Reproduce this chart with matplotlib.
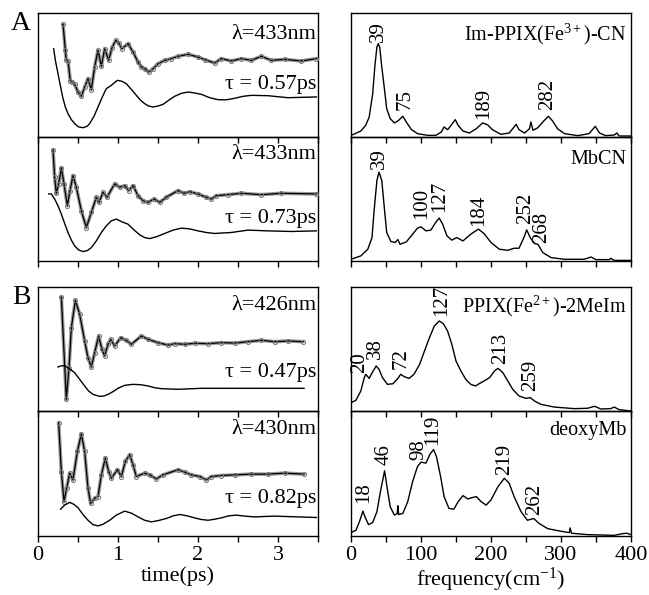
import numpy as np
import matplotlib
matplotlib.use("Agg")
import matplotlib.pyplot as plt

# ------------------------------------------------------------
# Data (y in arbitrary units, 0..1 per panel)
# ------------------------------------------------------------

# A1 : Im-PPIX(Fe3+)-CN, 433 nm
t_a1 = [0.313, 0.342, 0.354, 0.375, 0.404, 0.429, 0.458, 0.500, 0.542, 0.583,
        0.625, 0.667, 0.708, 0.750, 0.792, 0.833, 0.883, 0.925, 0.971, 1.008,
        1.050, 1.125, 1.188, 1.250, 1.292, 1.333, 1.383, 1.438, 1.500, 1.583,
        1.667, 1.750, 1.875, 2.000, 2.083, 2.208, 2.292, 2.417, 2.542, 2.667,
        2.792, 2.917, 3.083, 3.292, 3.479]
y_a1 = [0.909, 0.699, 0.618, 0.613, 0.452, 0.444, 0.425, 0.363, 0.328, 0.403,
        0.470, 0.382, 0.565, 0.699, 0.570, 0.712, 0.618, 0.720, 0.780, 0.758,
        0.712, 0.753, 0.685, 0.605, 0.565, 0.551, 0.524, 0.551, 0.591, 0.618,
        0.632, 0.651, 0.667, 0.645, 0.624, 0.597, 0.632, 0.613, 0.632, 0.618,
        0.651, 0.618, 0.626, 0.613, 0.632]
tf_a1 = [0.196, 0.217, 0.25, 0.283, 0.313, 0.342, 0.375, 0.417, 0.458, 0.508,
         0.5625, 0.6125, 0.646, 0.7, 0.75, 0.804, 0.854, 0.917, 0.992, 1.05,
         1.104, 1.167, 1.229, 1.283, 1.333, 1.383, 1.4375, 1.5, 1.5625, 1.633,
         1.708, 1.792, 1.875, 1.958, 2.042, 2.146, 2.25, 2.354, 2.458, 2.5625,
         2.667, 2.875, 3.125, 3.479]
yf_a1 = [0.712, 0.618, 0.511, 0.403, 0.309, 0.242, 0.188, 0.140, 0.108, 0.081,
         0.075, 0.086, 0.108, 0.167, 0.242, 0.323, 0.390, 0.417, 0.457, 0.449,
         0.430, 0.384, 0.336, 0.296, 0.269, 0.250, 0.242, 0.250, 0.263, 0.296,
         0.328, 0.352, 0.363, 0.355, 0.344, 0.317, 0.301, 0.300, 0.312, 0.328,
         0.336, 0.333, 0.317, 0.323]

# A2 : MbCN, 433 nm
t_a2 = [0.1875, 0.208, 0.229, 0.258, 0.292, 0.325, 0.367, 0.400, 0.4375, 0.479,
        0.542, 0.604, 0.667, 0.729, 0.763, 0.8125, 0.8625, 0.958, 1.021, 1.083,
        1.133, 1.188, 1.25, 1.3125, 1.375, 1.45, 1.521, 1.604, 1.75, 1.825,
        1.896, 2.0, 2.104, 2.167, 2.229, 2.375, 2.542, 2.792, 3.042, 3.479]
y_a2 = [0.897, 0.676, 0.546, 0.622, 0.751, 0.622, 0.446, 0.568, 0.689, 0.595,
        0.405, 0.270, 0.392, 0.514, 0.473, 0.554, 0.514, 0.622, 0.595, 0.608,
        0.568, 0.608, 0.527, 0.486, 0.473, 0.500, 0.473, 0.514, 0.568, 0.546,
        0.559, 0.541, 0.514, 0.500, 0.527, 0.535, 0.546, 0.535, 0.546, 0.541]
tf_a2 = [0.133, 0.167, 0.208, 0.25, 0.292, 0.333, 0.375, 0.417, 0.458, 0.508,
         0.5625, 0.617, 0.667, 0.729, 0.792, 0.854, 0.917, 0.979, 1.05, 1.125,
         1.2, 1.271, 1.333, 1.396, 1.479, 1.583, 1.688, 1.792, 1.896, 2.0,
         2.104, 2.208, 2.417, 2.625, 2.875, 3.167, 3.479]
yf_a2 = [0.541, 0.541, 0.500, 0.446, 0.378, 0.303, 0.230, 0.168, 0.122, 0.089,
         0.076, 0.084, 0.108, 0.162, 0.230, 0.284, 0.324, 0.338, 0.316, 0.297,
         0.251, 0.211, 0.189, 0.181, 0.195, 0.222, 0.249, 0.265, 0.259, 0.243,
         0.230, 0.222, 0.230, 0.249, 0.243, 0.238, 0.243]

# B1 : PPIX(Fe2+)-2MeIm, 426 nm
t_b1 = [0.292, 0.354, 0.3875, 0.417, 0.467, 0.521, 0.583, 0.625, 0.667, 0.708,
        0.758, 0.8, 0.833, 0.875, 0.908, 0.958, 1.033, 1.104, 1.167, 1.292,
        1.375, 1.5, 1.625, 1.708, 1.833, 1.958, 2.125, 2.292, 2.458, 2.625,
        2.792, 2.958, 3.125, 3.3125]
y_b1 = [0.919, 0.094, 0.349, 0.672, 0.892, 0.780, 0.565, 0.430, 0.355, 0.470,
        0.605, 0.497, 0.444, 0.538, 0.578, 0.524, 0.591, 0.570, 0.538, 0.605,
        0.578, 0.551, 0.532, 0.543, 0.538, 0.546, 0.543, 0.551, 0.548, 0.559,
        0.570, 0.559, 0.565, 0.559]
tf_b1 = [0.25, 0.283, 0.325, 0.375, 0.458, 0.521, 0.583, 0.633, 0.6875, 0.771,
         0.825, 0.875, 0.9375, 1.0, 1.083, 1.1875, 1.283, 1.375, 1.458, 1.542,
         1.75, 2.042, 2.458, 3.325]
yf_b1 = [0.355, 0.363, 0.366, 0.349, 0.309, 0.255, 0.202, 0.161, 0.134, 0.118,
         0.121, 0.134, 0.156, 0.183, 0.207, 0.215, 0.212, 0.202, 0.188, 0.180,
         0.175, 0.183, 0.183, 0.183]

# B2 : deoxyMb, 430 nm
t_b2 = [0.258, 0.292, 0.325, 0.358, 0.396, 0.4375, 0.492, 0.542, 0.583, 0.625,
        0.658, 0.708, 0.75, 0.792, 0.842, 0.883, 0.917, 0.992, 1.042, 1.092,
        1.146, 1.1875, 1.229, 1.333, 1.396, 1.479, 1.5625, 1.75, 1.833, 1.917,
        2.021, 2.104, 2.167, 2.292, 2.458, 2.667, 2.875, 3.083, 3.325]
y_b2 = [0.906, 0.516, 0.274, 0.382, 0.503, 0.449, 0.677, 0.817, 0.677, 0.382,
        0.261, 0.301, 0.315, 0.489, 0.624, 0.516, 0.462, 0.530, 0.476, 0.597,
        0.651, 0.570, 0.476, 0.503, 0.489, 0.457, 0.489, 0.530, 0.511, 0.489,
        0.476, 0.449, 0.476, 0.484, 0.489, 0.495, 0.495, 0.503, 0.495]
tf_b2 = [0.283, 0.333, 0.396, 0.45, 0.5, 0.5625, 0.625, 0.6875, 0.75, 0.8125,
         0.896, 0.979, 1.083, 1.167, 1.25, 1.333, 1.417, 1.508, 1.604, 1.688,
         1.771, 1.867, 1.958, 2.042, 2.125, 2.208, 2.292, 2.383, 2.479, 2.583,
         2.708, 2.958, 3.479]
yf_b2 = [0.215, 0.247, 0.269, 0.253, 0.226, 0.172, 0.126, 0.091, 0.081, 0.094,
         0.126, 0.167, 0.199, 0.183, 0.153, 0.126, 0.113, 0.124, 0.140, 0.161,
         0.172, 0.161, 0.145, 0.132, 0.126, 0.134, 0.145, 0.161, 0.167, 0.159,
         0.153, 0.159, 0.148]

# Spectra (frequency in cm-1)
f_a1 = [0, 14, 21, 26, 31, 34, 37, 39, 41, 44, 48, 51, 56, 62, 68, 74, 79, 86,
        95, 110, 121, 129, 133, 138, 143, 149, 153, 160, 169, 179, 188, 195,
        202, 214, 226, 231, 236, 240, 248, 255, 257, 260, 267, 274, 282, 288,
        295, 305, 324, 340, 349, 355, 364, 376, 380, 383, 400]
s_a1 = [0.013, 0.048, 0.094, 0.161, 0.349, 0.565, 0.726, 0.753, 0.726, 0.565,
        0.376, 0.228, 0.148, 0.113, 0.134, 0.167, 0.121, 0.062, 0.027, 0.013,
        0.013, 0.040, 0.081, 0.059, 0.094, 0.140, 0.094, 0.048, 0.032, 0.067,
        0.113, 0.099, 0.059, 0.022, 0.032, 0.067, 0.102, 0.059, 0.032, 0.067,
        0.121, 0.054, 0.075, 0.121, 0.167, 0.129, 0.067, 0.027, 0.011, 0.027,
        0.086, 0.032, 0.011, 0.016, 0.032, 0.008, 0.008]

f_a2 = [0, 14, 24, 30, 33, 37, 40, 44, 48, 51, 57, 63, 67, 70, 79, 88, 95, 100,
        107, 114, 121, 126, 131, 137, 144, 151, 160, 171, 182, 190, 200, 212,
        224, 233, 240, 247, 251, 256, 262, 267, 274, 286, 305, 333, 343, 350,
        369, 371, 376, 400]
s_a2 = [0.014, 0.041, 0.095, 0.189, 0.405, 0.649, 0.716, 0.649, 0.405, 0.230,
        0.157, 0.149, 0.173, 0.135, 0.154, 0.216, 0.265, 0.276, 0.243, 0.249,
        0.311, 0.346, 0.297, 0.203, 0.168, 0.189, 0.162, 0.216, 0.257, 0.222,
        0.149, 0.095, 0.086, 0.103, 0.103, 0.189, 0.251, 0.189, 0.141, 0.135,
        0.068, 0.027, 0.014, 0.014, 0.032, 0.011, 0.011, 0.022, 0.005, 0.005]

f_b1 = [0, 7, 14, 19, 21, 26, 31, 36, 40, 45, 52, 60, 67, 71, 76, 83, 90, 98,
        105, 112, 119, 126, 132, 138, 144, 150, 157, 164, 171, 178, 183, 190,
        198, 205, 210, 217, 224, 231, 240, 250, 256, 262, 271, 290, 319, 338,
        348, 357, 371, 376, 383, 400]
s_b1 = [0.067, 0.086, 0.161, 0.269, 0.296, 0.263, 0.317, 0.363, 0.336, 0.269,
        0.215, 0.220, 0.263, 0.296, 0.277, 0.263, 0.296, 0.376, 0.484, 0.591,
        0.685, 0.726, 0.704, 0.645, 0.538, 0.403, 0.323, 0.255, 0.215, 0.202,
        0.220, 0.242, 0.269, 0.323, 0.344, 0.309, 0.242, 0.175, 0.121, 0.102,
        0.108, 0.081, 0.054, 0.032, 0.019, 0.022, 0.038, 0.016, 0.019, 0.032,
        0.011, 0.000]

f_b2 = [0, 7, 12, 17, 20, 25, 31, 37, 42, 48, 51, 56, 62, 66, 67, 68, 74, 81,
        88, 95, 100, 107, 113, 118, 122, 128, 133, 140, 147, 153, 160, 167,
        172, 179, 186, 193, 200, 210, 219, 226, 233, 243, 252, 261, 269, 281,
        300, 312, 313, 315, 338, 376, 388, 394, 400]
s_b2 = [0.027, 0.046, 0.113, 0.199, 0.153, 0.091, 0.108, 0.194, 0.355, 0.522,
        0.409, 0.234, 0.167, 0.180, 0.242, 0.172, 0.180, 0.274, 0.435, 0.556,
        0.591, 0.583, 0.656, 0.691, 0.637, 0.476, 0.315, 0.220, 0.215, 0.274,
        0.323, 0.296, 0.306, 0.315, 0.274, 0.247, 0.288, 0.395, 0.462, 0.422,
        0.315, 0.194, 0.126, 0.140, 0.099, 0.059, 0.038, 0.027, 0.065, 0.022,
        0.011, 0.005, 0.019, 0.022, 0.011]

wavelengths = ["λ=433nm", "λ=433nm", "λ=426nm", "λ=430nm"]
taus = ["τ = 0.57ps", "τ = 0.73ps", "τ = 0.47ps", "τ = 0.82ps"]
samples = ["Im-PPIX(Fe$^{3+}$)-CN", "MbCN", "PPIX(Fe$^{2+}$)-2MeIm", "deoxyMb"]
peaks_a1 = ["39", "75", "189", "282"]
peaks_a2 = ["39", "100", "127", "184", "252", "268"]
peaks_b1 = ["20", "38", "72", "127", "213", "259"]
peaks_b2 = ["18", "46", "98", "119", "219", "262"]

# ------------------------------------------------------------
# Figure
# ------------------------------------------------------------
plt.rcParams["font.family"] = ["Liberation Serif", "DejaVu Serif"]
plt.rcParams["mathtext.fontset"] = "custom"
plt.rcParams["mathtext.rm"] = "Liberation Serif"
plt.rcParams["mathtext.it"] = "Liberation Serif"

fig = plt.figure(figsize=(6.49, 5.95), dpi=100)
W, H = 649.0, 595.0

# panel rows: (top, bottom) in pixels
rows = [(13, 137), (137, 261), (287, 411), (411, 536)]
lx, rx, pw = 38, 351, 280


def make_ax(x0, row):
    top, bot = row
    ax = fig.add_axes([x0 / W, 1 - bot / H, pw / W, (bot - top) / H])
    ax.patch.set_alpha(0)
    ax.set_ylim(0, 1)
    ax.set_yticks([])
    for sp in ax.spines.values():
        sp.set_linewidth(1.0)
    ax.tick_params(axis="x", which="both", direction="out", length=4,
                   width=1, labelsize=16, pad=3)
    return ax


time_data = [(t_a1, y_a1, tf_a1, yf_a1), (t_a2, y_a2, tf_a2, yf_a2),
             (t_b1, y_b1, tf_b1, yf_b1), (t_b2, y_b2, tf_b2, yf_b2)]
spec_data = [(f_a1, s_a1), (f_a2, s_a2), (f_b1, s_b1), (f_b2, s_b2)]

lam_y = [0.83, 0.855, 0.85, 0.855]
tau_y = [0.42, 0.34, 0.31, 0.30]
name_y = [0.83, 0.82, 0.84, 0.84]

# peak label positions (x in cm-1, y of text bottom)
peak_pos = [
    [(39, 0.766), (77, 0.215), (190, 0.148), (281, 0.215)],
    [(40, 0.743), (101, 0.338), (126, 0.392), (183, 0.284), (249, 0.300), (273, 0.149)],
    [(13, 0.309), (35, 0.417), (72, 0.336), (129, 0.766), (214, 0.376), (257, 0.161)],
    [(18, 0.261), (48, 0.570), (97, 0.610), (117, 0.731), (219, 0.489), (262, 0.167)],
]
peak_txt = [peaks_a1, peaks_a2, peaks_b1, peaks_b2]

for i, row in enumerate(rows):
    # --- time domain ---
    t, y, tf, yf = time_data[i]
    ax = make_ax(lx, row)
    ax.plot(t, y, color="#9a9a9a", lw=2.6, solid_capstyle="round", zorder=2)
    ax.plot(t, y, color="black", lw=0.9, marker="o", ms=3, mfc="none",
            mec="#7a7a7a", mew=0.7, zorder=3)
    ax.plot(tf, yf, color="black", lw=1.0, zorder=3)
    ax.set_xlim(0, 3.5)
    ax.set_xticks([0, 1, 2, 3])
    ax.set_xticks([0.5, 1.5, 2.5, 3.5], minor=True)
    ax.text(0.995, lam_y[i], wavelengths[i], transform=ax.transAxes,
            ha="right", va="center", fontsize=16)
    ax.text(0.995, tau_y[i], taus[i], transform=ax.transAxes,
            ha="right", va="center", fontsize=16)
    if i == 3:
        ax.set_xlabel("time(ps)", fontsize=16, labelpad=1)
    else:
        ax.tick_params(axis="x", which="both", labelbottom=False)

    # --- spectra ---
    f, s = spec_data[i]
    ax2 = make_ax(rx, row)
    ax2.plot(f, s, color="black", lw=1.0)
    ax2.set_xlim(0, 400)
    ax2.set_xticks([0, 100, 200, 300, 400])
    ax2.set_xticks([50, 150, 250, 350], minor=True)
    ax2.text(0.985, name_y[i], samples[i], transform=ax2.transAxes,
             ha="right", va="center", fontsize=14.5)
    for lab, (px, py) in zip(peak_txt[i], peak_pos[i]):
        ax2.text(px, py, lab, rotation=90, ha="center", va="bottom",
                 fontsize=15)
    if i == 3:
        ax2.set_xlabel("frequency(cm$^{-1}$)", fontsize=16, labelpad=1)
    else:
        ax2.tick_params(axis="x", which="both", labelbottom=False)

fig.text(21 / W, 1 - 23 / H, "A", ha="center", va="center", fontsize=20)
fig.text(21 / W, 1 - 297 / H, "B", ha="center", va="center", fontsize=20)

plt.savefig("out.png", dpi=100)
plt.close()
